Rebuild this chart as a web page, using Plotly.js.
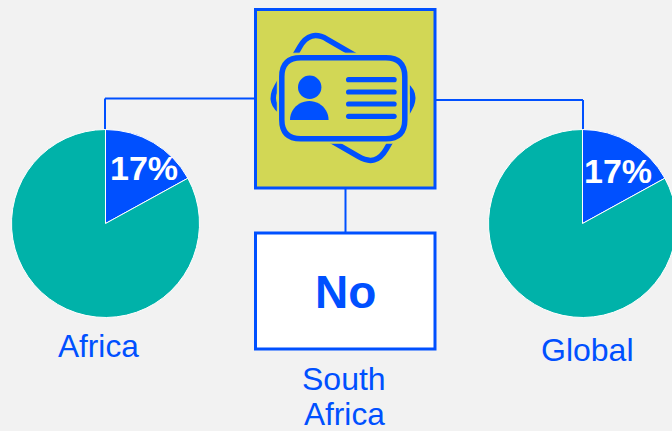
<!DOCTYPE html>
<html>
<head>
<meta charset="utf-8">
<script src="https://cdn.plot.ly/plotly-3.0.1.min.js"></script>
<style>html,body{margin:0;padding:0;background:#F2F2F2;overflow:hidden;width:672px;height:431px}</style>
</head>
<body>
<div id="chart"></div>
<script>
var sliceLabels = ['Yes', 'No'];
var africaValues = [17, 83];
var globalValues = [17, 83];
var regionNames = ['Africa', 'Global', 'South', 'Africa'];
var southAfricaAnswer = 'No';
var pctLabels = ['17%', '17%'];

var BLUE = '#0050FF', TEAL = '#00B2A9', OLIVE = '#D2D755', BG = '#F2F2F2';
// The plot is wider than the window so the right pie runs off the edge, as in the reference
var W = 700, H = 431;
function fx(p){ return p / W; }
function fy(p){ return 1 - p / H; }

function pie(values, x0, x1){
  return {
    type: 'pie', values: values, labels: sliceLabels, sort: false,
    direction: 'clockwise', rotation: 0, textinfo: 'none', hoverinfo: 'label+value',
    marker: {colors: [BLUE, TEAL], line: {color: '#FFFFFF', width: 1}},
    domain: {x: [fx(x0), fx(x1)], y: [fy(317.5), fy(129.5)]}
  };
}

function line(x0, y0, x1, y1, w){
  return {type:'line', xref:'paper', yref:'paper', x0:fx(x0), y0:fy(y0), x1:fx(x1), y1:fy(y1),
          line:{color:BLUE, width:w||2}, layer:'below'};
}
function box(x0, y0, x1, y1, fill, stroke, w){
  return {type:'rect', xref:'paper', yref:'paper', x0:fx(x0), y0:fy(y0), x1:fx(x1), y1:fy(y1),
          fillcolor:fill, line:{color:stroke, width:w}};
}
function P(x, y){ return fx(x).toFixed(5) + ',' + fy(y).toFixed(5); }
function path(d, fill, stroke, w){
  return {type:'path', xref:'paper', yref:'paper', path:d, fillcolor:fill,
          line:{color:stroke, width:w}};
}
// rounded rectangle, rotated by deg about its centre
function rrect(cx, cy, hw, hh, r, deg){
  var a = deg * Math.PI / 180, c = Math.cos(a), s = Math.sin(a);
  function t(u, v){ return P(cx + u*c - v*s, cy + u*s + v*c); }
  return 'M' + t(-hw+r,-hh) + ' L' + t(hw-r,-hh) + ' Q' + t(hw,-hh) + ' ' + t(hw,-hh+r) +
         ' L' + t(hw,hh-r) + ' Q' + t(hw,hh) + ' ' + t(hw-r,hh) +
         ' L' + t(-hw+r,hh) + ' Q' + t(-hw,hh) + ' ' + t(-hw,hh-r) +
         ' L' + t(-hw,-hh+r) + ' Q' + t(-hw,-hh) + ' ' + t(-hw+r,-hh) + ' Z';
}
function circle(cx, cy, r){
  return {type:'circle', xref:'paper', yref:'paper', x0:fx(cx-r), x1:fx(cx+r), y0:fy(cy-r), y1:fy(cy+r),
          fillcolor:BLUE, line:{width:0}};
}
function bar(x0, x1, y){
  return path(rrect((x0+x1)/2, y, (x1-x0)/2, 2.6, 2.6, 0), BLUE, BLUE, 0);
}
// half-ellipse body of the person glyph
function bodyPath(cx, base, rx, ry){
  var d = 'M' + P(cx-rx, base);
  for (var i = 1; i <= 24; i++){
    var a = Math.PI - Math.PI * i / 24;
    d += ' L' + P(cx + rx*Math.cos(a), base - ry*Math.sin(a));
  }
  return d + ' Z';
}

var shapes = [
  line(105, 130, 105, 98.5), line(105, 98.5, 255, 98.5),
  line(436, 100, 583, 100), line(583, 100, 583, 130),
  line(345.5, 189, 345.5, 232),
  box(255.5, 9.5, 435, 188, OLIVE, BLUE, 3),
  box(255.5, 233, 435, 349, '#FFFFFF', BLUE, 3),
  path(rrect(343, 98, 63, 43, 20, 30), 'rgba(0,0,0,0)', BLUE, 5.5),
  path(rrect(343.3, 98.2, 66, 45, 17, 0), OLIVE, OLIVE, 1),
  path(rrect(343.3, 98.2, 61.5, 40.5, 19, 0), OLIVE, BLUE, 5.5),
  circle(309.7, 87.3, 11.7),
  path(bodyPath(309.3, 120, 19.3, 19), BLUE, BLUE, 0),
  bar(346, 396.7, 79.7), bar(346, 396.7, 92), bar(346, 396.7, 104), bar(346, 396.7, 116.3)
];

function note(text, x, y, size, color, bold){
  return {xref:'paper', yref:'paper', x:fx(x), y:fy(y), xanchor:'center', yanchor:'middle',
          text: bold ? '<b>' + text + '</b>' : text, showarrow:false,
          font:{family:'"Liberation Sans", Arial, sans-serif', size:size, color:color}};
}

var layout = {
  width: W, height: H, margin: {l:0, r:0, t:0, b:0, pad:0},
  paper_bgcolor: BG, plot_bgcolor: BG, showlegend: false, shapes: shapes,
  annotations: [
    note(pctLabels[0], 143.5, 168.5, 34, '#FFFFFF', true),
    note(pctLabels[1], 617.5, 170.5, 34, '#FFFFFF', true),
    note(southAfricaAnswer, 345.5, 292, 46, BLUE, true),
    note(regionNames[0], 98.5, 346, 31.6, BLUE),
    note(regionNames[1], 587.5, 350, 32, BLUE),
    note(regionNames[2], 344, 379, 32, BLUE),
    note(regionNames[3], 344, 414, 31.6, BLUE)
  ]
};

Plotly.newPlot('chart', [pie(africaValues, 11.5, 199.5), pie(globalValues, 488.5, 676.5)], layout,
  {displayModeBar:false, staticPlot:true});
</script>
</body>
</html>
